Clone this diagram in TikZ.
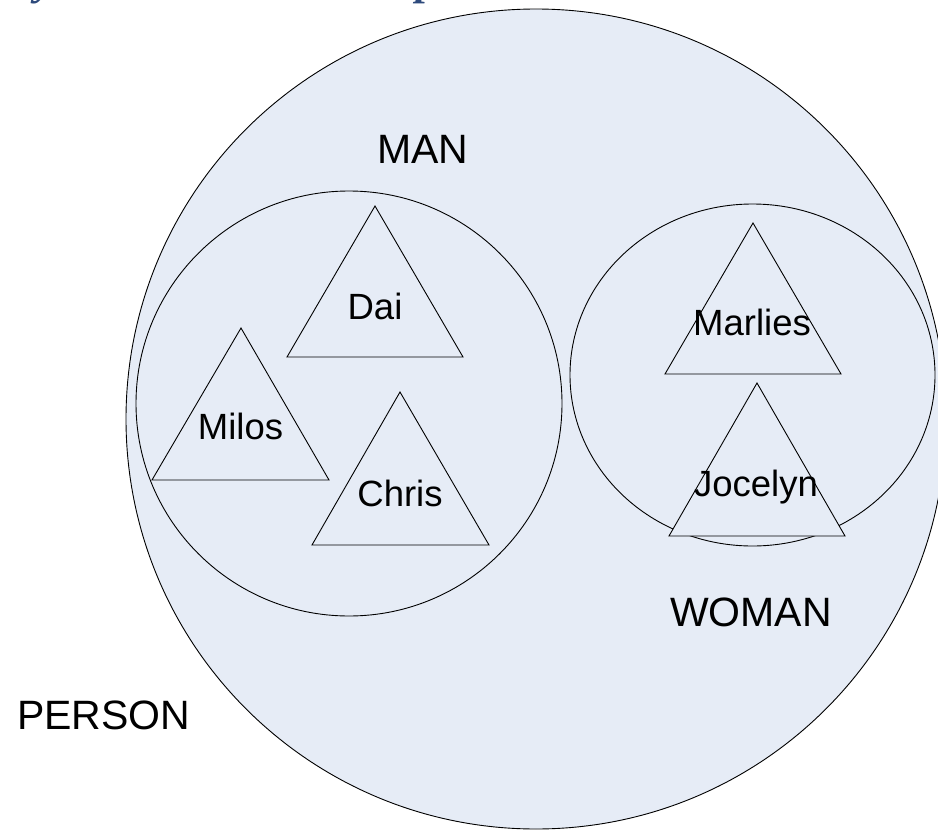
\documentclass[tikz,border=0pt]{standalone}
\usepackage{fontspec}
\setmainfont{Liberation Sans}
\newfontfamily\titlefont{Liberation Serif}
\definecolor{setfill}{RGB}{230,236,246}
\definecolor{titleblue}{RGB}{46,74,124}
\tikzset{
  setline/.style={draw=black, line width=0.9pt, fill=setfill},
  namelbl/.style={anchor=base, inner sep=0pt, font=\fontsize{36.5}{40}\selectfont},
  setlbl/.style={anchor=base, inner sep=0pt, font=\fontsize{41}{45}\selectfont},
  titlelbl/.style={anchor=base, inner sep=0pt, text=titleblue, font=\titlefont\bfseries\itshape\fontsize{44}{48}\selectfont}
}
\begin{document}
\begin{tikzpicture}[x=1pt, y=-1pt]
\useasboundingbox (0,0) rectangle (938,830);
\clip (0,0) rectangle (938,830);
% cut-off title fragments
\node[titlelbl] (t1) at (45,-6) {y};
\node[titlelbl] (t2) at (427,-6) {p};
% sets
\draw[setline] (536,419) ellipse [x radius=410, y radius=410];
\draw[setline] (349,403.5) ellipse [x radius=213, y radius=212.5];
\draw[setline] (752.5,375) ellipse [x radius=182.5, y radius=171];
% triangles
\draw[setline] (375,206) -- (463,357) -- (287,357) -- cycle;
\draw[setline] (241,328) -- (329,480) -- (152,480) -- cycle;
\draw[setline] (400,392) -- (489,545) -- (312,545) -- cycle;
\draw[setline] (753,223) -- (841,374) -- (665,374) -- cycle;
\draw[setline] (757,383) -- (845,536) -- (669,536) -- cycle;
% labels
\node[setlbl] (man) at (423,163) {MAN};
\node[setlbl] (woman) at (751,626) {WOMAN};
\node[setlbl, anchor=base west] (person) at (17,729) {PERSON};
\node[namelbl] (dai) at (375,319) {Dai};
\node[namelbl] (milos) at (240.5,439) {Milos};
\node[namelbl] (chris) at (400,506) {Chris};
\node[namelbl] (marlies) at (752,335) {Marlies};
\node[namelbl] (jocelyn) at (756,496) {Jocelyn};
\end{tikzpicture}
\end{document}
